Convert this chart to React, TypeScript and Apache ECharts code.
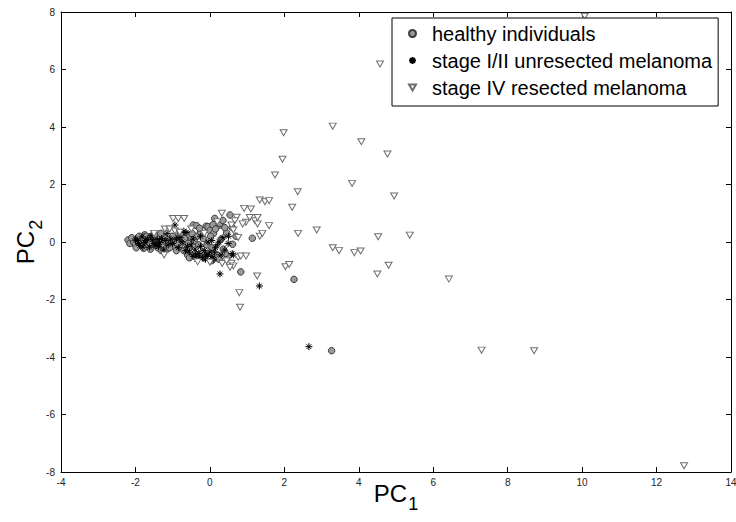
import React, { useEffect, useRef } from "react";
import * as echarts from "echarts";

const FONT = '"Liberation Sans", Arial, Helvetica, sans-serif';

const seriesNames = [
  "healthy individuals",
  "stage I/II unresected melanoma",
  "stage IV resected melanoma",
];

const xTicks = { min: -4, max: 14, interval: 2 };
const yTicks = { min: -8, max: 8, interval: 2 };

// healthy individuals [PC1, PC2]
const healthy: number[][] = [
  [-2.2, 0.07], [-2.15, -0.05], [-2.05, 0.0], [-2.0, -0.1], [-1.95, 0.12], [-1.9, 0.2],
  [-1.85, -0.05], [-1.8, 0.1], [-1.75, 0.25], [-1.7, -0.15], [-1.65, 0.05], [-1.6, 0.18],
  [-1.55, -0.08], [-1.5, 0.12], [-1.45, 0.0], [-1.4, -0.2], [-1.35, 0.22], [-1.3, 0.05],
  [-1.25, -0.1], [-1.2, 0.15], [-1.15, -0.25], [-1.1, 0.08], [-1.05, -0.05], [-1.0, 0.2],
  [-0.95, -0.15], [-0.9, 0.05], [-0.85, 0.3], [-0.8, -0.1], [-0.75, 0.15], [-0.7, -0.3],
  [-0.65, 0.0], [-0.6, 0.25], [-0.55, -0.2], [-0.5, 0.1], [-0.45, 0.59], [-0.36, 0.57],
  [-0.4, -0.4], [-0.35, 0.2], [-0.3, -0.1], [-0.25, 0.35], [-0.2, -0.35], [-0.1, 0.55],
  [-0.05, 0.53], [0.0, 0.4], [0.05, -0.2], [0.1, 0.3], [0.13, 0.82], [0.2, -0.45],
  [0.27, 0.59], [0.27, 0.65], [0.3, 0.1], [0.36, -0.25], [0.45, 0.32], [0.5, -0.5],
  [0.54, 0.94], [0.61, -0.08], [0.2, -0.55], [0.6, 0.5], [0.7, 0.2], [0.83, -1.04],
  [1.14, 0.13], [2.26, -1.3], [3.27, -3.78], [-1.6, -0.25], [-1.3, -0.3], [-0.9, -0.3],
  [-0.6, -0.45], [-0.15, -0.55], [0.25, -0.6], [0.4, 0.5],
  [-2.1, 0.15], [-1.98, -0.2], [-1.92, 0.0], [-1.78, -0.22], [-1.72, 0.2], [-1.62, -0.02],
  [-1.48, 0.25], [-1.42, -0.12], [-1.32, 0.3], [-1.18, 0.0], [-1.08, -0.2], [-0.98, 0.02],
  [-0.88, -0.05], [-0.78, 0.28], [-0.68, 0.12], [-0.58, -0.05], [-0.48, 0.3], [-0.42, 0.05],
  [-0.28, 0.48], [-0.18, 0.12], [-0.08, -0.1], [0.02, 0.2], [0.08, 0.6], [0.15, 0.45],
  [0.35, 0.75], [0.42, -0.4], [-0.55, -0.55], [0.05, -0.65],
];

// stage I/II unresected melanoma [PC1, PC2]
const stageEarly: number[][] = [
  [-1.95, 0.05], [-1.88, -0.12], [-1.82, 0.18], [-1.75, -0.02], [-1.68, 0.1], [-1.62, -0.18],
  [-1.58, 0.22], [-1.5, -0.05], [-1.42, 0.08], [-1.38, -0.15], [-1.3, 0.12], [-1.25, -0.28],
  [-1.12, -0.1], [-1.05, 0.1], [-0.94, 0.59], [-0.7, 0.38], [-0.64, 0.33], [-0.85, -0.2],
  [-0.75, 0.0], [-0.6, -0.15], [-0.55, -0.35], [-0.5, -0.1], [-0.45, -0.5], [-0.4, -0.25],
  [-0.35, -0.6], [-0.3, -0.4], [-0.25, -0.15], [-0.2, -0.55], [-0.15, -0.3], [-0.1, -0.45],
  [-0.05, 0.0], [0.0, -0.35], [0.05, 0.05], [0.1, -0.6], [0.15, -0.2], [0.27, -1.11],
  [0.4, -0.28], [0.49, -0.05], [0.63, -0.45], [0.25, 0.0], [0.6, -0.4], [1.33, -1.53],
  [2.66, -3.64], [-0.9, 0.1], [-1.15, 0.3], [0.3, -0.45], [0.5, 0.2], [-0.25, 0.2],
  [-2.0, 0.1], [-1.92, -0.05], [-1.8, -0.18], [-1.72, 0.05], [-1.55, 0.08], [-1.45, -0.12],
  [-1.35, -0.02], [-1.2, 0.05], [-1.0, -0.05], [-0.8, 0.15], [-0.65, -0.3], [-0.38, -0.45],
  [-0.28, -0.55], [-0.12, -0.6], [-0.05, -0.45], [0.05, -0.5], [0.12, -0.35], [0.2, -0.1],
  [-0.45, 0.1], [0.35, 0.15],
];

// stage IV resected melanoma [PC1, PC2]
const stageLate: number[][] = [
  [-0.99, 0.82], [-0.85, 0.82], [-0.69, 0.82], [-1.21, 0.45], [-1.08, 0.45], [-0.94, 0.38],
  [-0.81, 0.34], [-1.23, -0.45], [-0.33, -0.69], [-1.5, 0.3], [-0.5, 0.45], [0.32, 1.0],
  [0.72, 0.86], [0.67, 0.74], [1.07, 0.85], [1.21, 0.74], [1.28, 0.63], [0.97, 0.69],
  [0.88, 0.63], [1.59, 0.57], [0.58, 0.59], [0.63, 0.42], [0.76, 0.16], [1.34, 0.2],
  [1.41, 0.3], [0.76, -0.53], [0.83, -0.49], [0.97, -0.49], [0.58, -0.74], [0.63, -0.83],
  [0.54, -0.88], [1.27, -1.18], [0.79, -1.76], [0.81, -2.27], [0.33, -0.75], [0.45, -0.65],
  [0.2, 0.7], [-0.15, 0.3], [0.0, -0.7], [1.28, 0.85],
  [0.92, 1.17], [1.1, 1.15], [1.34, 1.46], [1.48, 1.4], [1.59, 1.44], [2.21, 1.21],
  [2.36, 1.75], [1.75, 2.33], [1.95, 2.88], [1.98, 3.8], [3.3, 4.03], [4.07, 3.49],
  [4.77, 3.06], [3.82, 2.04], [4.95, 1.6], [2.37, 0.3], [2.87, 0.42], [4.52, 0.18],
  [5.37, 0.24], [3.3, -0.2], [3.47, -0.3], [3.88, -0.37], [4.05, -0.31], [2.03, -0.86],
  [2.13, -0.78], [4.8, -0.81], [4.5, -1.11], [6.42, -1.29], [7.3, -3.76], [8.71, -3.78],
  [12.74, -7.78], [4.57, 6.19], [10.07, 7.85],
];

const ASTERISK = "path://M5,0L5,10M0,5L10,5M1.6,1.6L8.4,8.4M1.6,8.4L8.4,1.6";
const TRIANGLE = "path://M0,0L10,0L5,8.66Z";

export default function App() {
  const ref = useRef<HTMLDivElement>(null);

  useEffect(() => {
    if (!ref.current) return;
    const chart = echarts.init(ref.current, null, { renderer: "svg" });

    const axisCommon = {
      type: "value" as const,
      splitLine: { show: false },
      axisLine: { show: true, onZero: false, lineStyle: { color: "#000", width: 1 } },
      axisTick: { show: true, inside: true, length: 5, lineStyle: { color: "#000" } },
    };

    const labelStyle = { color: "#222", fontSize: 10, fontFamily: FONT };

    const nameRich = {
      a: { fontSize: 24, fontFamily: FONT, color: "#000", verticalAlign: "top", lineHeight: 26 },
      b: { fontSize: 18, fontFamily: FONT, color: "#000", verticalAlign: "top", lineHeight: 20, padding: [14, 0, 0, 1] },
    };

    chart.setOption({
      animation: false,
      backgroundColor: "#fff",
      grid: { left: 61, right: 5, top: 12, bottom: 50, containLabel: false, outerBoundsMode: "none" },
      legend: {
        orient: "vertical",
        left: 392,
        top: 18,
        padding: [5, 6, 8, 16],
        itemGap: 6,
        itemWidth: 7,
        itemHeight: 7,
        backgroundColor: "#fff",
        borderColor: "#000",
        borderWidth: 1,
        textStyle: { fontSize: 20, fontFamily: FONT, color: "#000", padding: [0, 0, 0, 11], lineHeight: 21 },
        data: [
          { name: seriesNames[0], icon: "circle" },
          { name: seriesNames[1], icon: ASTERISK },
          { name: seriesNames[2], icon: TRIANGLE },
        ],
      },
      xAxis: [
        {
          ...axisCommon,
          position: "bottom",
          min: xTicks.min,
          max: xTicks.max,
          interval: xTicks.interval,
          axisLabel: { ...labelStyle, margin: 5 },
          name: "{a|PC}{b|1}",
          nameLocation: "middle",
          nameGap: 9,
          nameMoveOverlap: false,
          nameTextStyle: { rich: nameRich },
        },
        {
          ...axisCommon,
          position: "top",
          min: xTicks.min,
          max: xTicks.max,
          interval: xTicks.interval,
          axisLabel: { show: false },
        },
      ],
      yAxis: [
        {
          ...axisCommon,
          position: "left",
          min: yTicks.min,
          max: yTicks.max,
          interval: yTicks.interval,
          axisLabel: { ...labelStyle, margin: 6 },
          name: "{a|PC}{b|2}",
          nameLocation: "middle",
          nameGap: 22,
          nameMoveOverlap: false,
          nameTextStyle: { rich: nameRich },
        },
        {
          ...axisCommon,
          position: "right",
          min: yTicks.min,
          max: yTicks.max,
          interval: yTicks.interval,
          axisLabel: { show: false },
        },
      ],
      series: [
        {
          name: seriesNames[0],
          type: "scatter",
          data: healthy,
          symbol: "circle",
          symbolSize: 6.5,
          itemStyle: { color: "#9a9a9a", borderColor: "#3a3a3a", borderWidth: 1, opacity: 1 },
        },
        {
          name: seriesNames[1],
          type: "scatter",
          data: stageEarly,
          symbol: ASTERISK,
          symbolSize: 7,
          itemStyle: { color: "#000", borderColor: "#000", borderWidth: 1, opacity: 1 },
        },
        {
          name: seriesNames[2],
          type: "scatter",
          data: stageLate,
          symbol: TRIANGLE,
          symbolSize: [7, 6],
          itemStyle: { color: "#fff", borderColor: "#6e6e6e", borderWidth: 1, opacity: 1 },
        },
      ],
    });

    return () => chart.dispose();
  }, []);

  return <div ref={ref} style={{ width: 736, height: 522, position: "absolute", left: 0, top: 0 }} />;
}
